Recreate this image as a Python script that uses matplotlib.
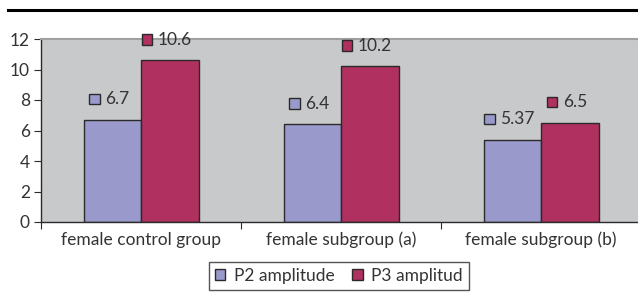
import matplotlib
matplotlib.use('Agg')
import matplotlib.pyplot as plt
from matplotlib.lines import Line2D
from matplotlib.patches import Rectangle, Patch
from matplotlib.offsetbox import AnnotationBbox, HPacker, DrawingArea, TextArea
import numpy as np

# data
groups = ['female control group', 'female subgroup (a)', 'female subgroup (b)']
p2 = [6.7, 6.4, 5.37]
p3 = [10.6, 10.2, 6.5]
series_names = ['P2 amplitude', 'P3 amplitud']
label_text = [['6.7', '6.4', '5.37'], ['10.6', '10.2', '6.5']]

blue = '#9999cc'
red = '#b03060'
grey = '#c8c9ca'
edge = '#2a2a2a'
txt = '#333333'
fs = 12.5

plt.rcParams['font.family'] = ['Lato', 'DejaVu Sans']
plt.rcParams['font.size'] = fs

fig = plt.figure(figsize=(6.38, 2.95), dpi=100)
ax = fig.add_axes([41/638, 73/295, 600/638, 183/295])
ax.set_facecolor(grey)

w = 0.2875
x = np.arange(len(groups)) + 0.5
b1 = ax.bar(x - w/2, p2, w, color=blue, edgecolor=edge, linewidth=1)
b2 = ax.bar(x + w/2, p3, w, color=red, edgecolor=edge, linewidth=1)

ax.set_xlim(0, 3)
ax.set_ylim(0, 12)
ax.set_yticks(range(0, 13, 2))
ax.set_xticks([0, 1, 2, 3])
ax.set_xticklabels([])
ax.set_xticks(x, minor=True)
ax.set_xticklabels(groups, minor=True)
ax.tick_params(axis='x', which='minor', length=0, pad=7, colors=txt)
ax.tick_params(axis='x', which='major', length=5, direction='out', color=edge)
ax.tick_params(axis='y', length=5, direction='out', color=edge, labelcolor=txt, pad=3)

for s in ['left', 'bottom']:
    ax.spines[s].set_color(edge)
    ax.spines[s].set_linewidth(1)
ax.spines['top'].set_color('#a0a0a0')
ax.spines['top'].set_linewidth(1.5)
ax.spines['right'].set_visible(False)

# value labels with a small colored square before them
for vals, texts, col, off in [(p2, label_text[0], blue, -w/2), (p3, label_text[1], red, w/2)]:
    for xi, v, t in zip(x, vals, texts):
        da = DrawingArea(7.5, 7.5, 0, 0)
        da.add_artist(Rectangle((0, 0), 7.5, 7.5, facecolor=col, edgecolor=edge, linewidth=1))
        ta = TextArea(t, textprops=dict(color=txt, fontsize=fs))
        box = HPacker(children=[da, ta], align='center', pad=0, sep=4)
        ab = AnnotationBbox(box, (xi + off, v), xybox=(-2, 15), xycoords='data',
                            boxcoords='offset points', frameon=False, box_alignment=(0.5, 0.5))
        ax.add_artist(ab)

handles = [Patch(facecolor=blue, edgecolor=edge), Patch(facecolor=red, edgecolor=edge)]
leg = fig.legend(handles, series_names, loc='center', bbox_to_anchor=(339/638, 19/295),
                 ncol=2, frameon=True, fancybox=False, edgecolor=edge, handlelength=0.6,
                 handleheight=0.6, handletextpad=0.5, columnspacing=1.0, borderpad=0.35,
                 labelcolor=txt, fontsize=fs)
leg.get_frame().set_linewidth(1)

fig.add_artist(Line2D([8/638, 1], [285/295, 285/295], color='black', linewidth=2.2))

fig.savefig('out.png', dpi=100)
